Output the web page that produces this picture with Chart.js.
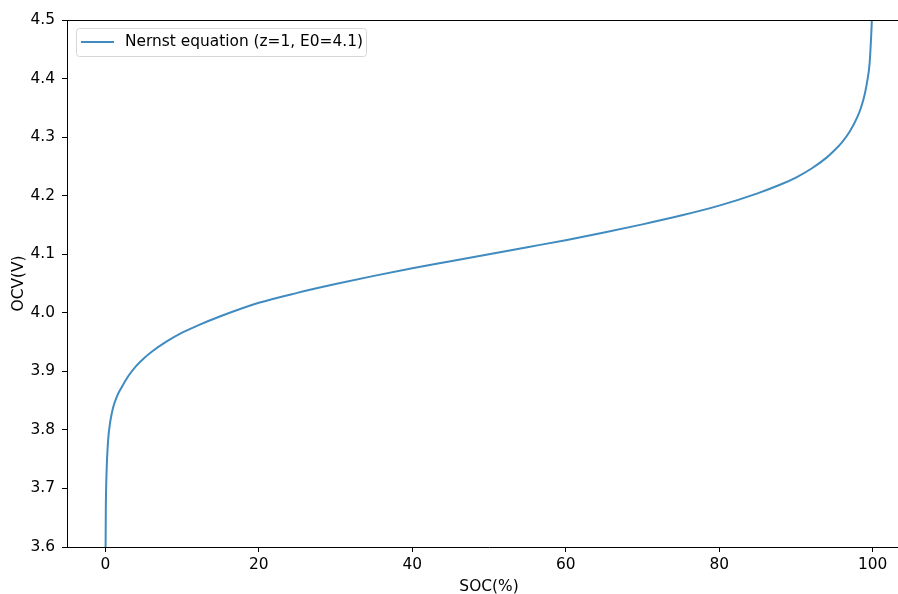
<!DOCTYPE html>
<html>
<head>
<meta charset="utf-8">
<title>OCV vs SOC</title>
<script src="https://cdn.jsdelivr.net/npm/chart.js@4"></script>
<style>
  html, body { margin: 0; padding: 0; background: #fff; overflow: hidden; width: 898px; height: 594px; }
  canvas { display: block; }
</style>
</head>
<body>
<canvas id="ocvChart" width="912" height="594"></canvas>
<script>
// state of charge (%) and open-circuit voltage (V)
var socValues = [0.03, 0.06, 0.1, 0.15, 0.2, 0.3, 0.4, 0.55, 0.7, 1.0, 1.5, 2, 3, 4, 5, 6, 8, 10, 12, 15,
                 20, 25, 30, 35, 40, 45, 50, 55, 60, 65, 70, 75, 80, 85, 88, 90, 92, 94, 95, 96, 97,
                 98, 98.5, 99, 99.3, 99.6, 99.8, 99.9];
var ocvValues = [3.60, 3.665, 3.70, 3.725, 3.745, 3.770, 3.789, 3.806, 3.819, 3.838, 3.857, 3.870,
                 3.892, 3.909, 3.922, 3.933, 3.951, 3.966, 3.978, 3.994, 4.017, 4.034, 4.049, 4.063,
                 4.076, 4.088, 4.100, 4.112, 4.124, 4.137, 4.151, 4.166, 4.183, 4.204, 4.219, 4.231,
                 4.246, 4.265, 4.277, 4.291, 4.309, 4.334, 4.351, 4.375, 4.396, 4.425, 4.47, 4.50];
var xTicks = [0, 20, 40, 60, 80, 100];
var yTicks = [3.6, 3.7, 3.8, 3.9, 4.0, 4.1, 4.2, 4.3, 4.4, 4.5];
var seriesLabel = 'Nernst equation (z=1, E0=4.1)';

var lineColor = '#408bbf';
var fontFamily = '"DejaVu Sans", sans-serif';
var fontSize = 15.4;

var points = socValues.map(function(s, i) { return { x: s, y: ocvValues[i] }; });

/* top spine plus a matplotlib-style legend box */
var frameLegendPlugin = {
  id: 'frameLegend',
  afterDraw: function(chart) {
    var c = chart.ctx;
    var area = chart.chartArea;
    c.save();
    c.strokeStyle = '#000';
    c.lineWidth = 1;
    c.beginPath();
    c.moveTo(area.left, area.top + 0.5);
    c.lineTo(area.right, area.top + 0.5);
    c.stroke();

    var bx = 76.5, by = 28.5, bw = 290, bh = 28, r = 3;
    c.fillStyle = 'rgba(255,255,255,0.8)';
    c.strokeStyle = '#d6d6d6';
    c.beginPath();
    c.moveTo(bx + r, by);
    c.lineTo(bx + bw - r, by);
    c.arcTo(bx + bw, by, bx + bw, by + r, r);
    c.lineTo(bx + bw, by + bh - r);
    c.arcTo(bx + bw, by + bh, bx + bw - r, by + bh, r);
    c.lineTo(bx + r, by + bh);
    c.arcTo(bx, by + bh, bx, by + bh - r, r);
    c.lineTo(bx, by + r);
    c.arcTo(bx, by, bx + r, by, r);
    c.closePath();
    c.fill();
    c.stroke();

    c.strokeStyle = lineColor;
    c.lineWidth = 2;
    c.beginPath();
    c.moveTo(81, 42);
    c.lineTo(114, 42);
    c.stroke();

    c.fillStyle = '#000';
    c.font = fontSize + 'px ' + fontFamily;
    c.textBaseline = 'middle';
    c.textAlign = 'left';
    c.fillText(chart.data.datasets[0].label, 125, 42);
    c.restore();
  }
};

new Chart(document.getElementById('ocvChart'), {
  type: 'scatter',
  data: {
    datasets: [{
      label: seriesLabel,
      data: points,
      showLine: true,
      borderColor: lineColor,
      backgroundColor: lineColor,
      borderWidth: 2,
      pointRadius: 0,
      cubicInterpolationMode: 'monotone'
    }]
  },
  options: {
    responsive: false,
    animation: false,
    layout: { padding: { top: 20, right: 1, left: 0, bottom: 0 } },
    plugins: {
      legend: { display: false },
      tooltip: { enabled: false }
    },
    scales: {
      x: {
        type: 'linear',
        min: -5,
        max: 105,
        afterBuildTicks: function(axis) { axis.ticks = xTicks.map(function(v) { return { value: v }; }); },
        afterFit: function(axis) { axis.height = 47; },
        grid: { drawOnChartArea: false, drawTicks: true, tickLength: 5, color: '#000', tickWidth: 1 },
        border: { display: true, color: '#000', width: 1 },
        ticks: { color: '#000', font: { size: fontSize, family: fontFamily }, padding: 4, maxRotation: 0 },
        title: { display: true, text: 'SOC(%)', color: '#000', font: { size: fontSize, family: fontFamily }, padding: { top: 0, bottom: -2 } }
      },
      y: {
        type: 'linear',
        min: 3.6,
        max: 4.5,
        afterBuildTicks: function(axis) { axis.ticks = yTicks.map(function(v) { return { value: v }; }); },
        afterFit: function(axis) { axis.width = 67; },
        grid: { drawOnChartArea: false, drawTicks: true, tickLength: 5, color: '#000', tickWidth: 1 },
        border: { display: true, color: '#000', width: 1 },
        ticks: {
          color: '#000',
          font: { size: fontSize, family: fontFamily },
          padding: 7,
          callback: function(v) { return v.toFixed(1); }
        },
        title: { display: true, text: 'OCV(V)', color: '#000', font: { size: fontSize, family: fontFamily }, padding: { top: 10, bottom: 0 } }
      }
    }
  },
  plugins: [frameLegendPlugin]
});
</script>
</body>
</html>
